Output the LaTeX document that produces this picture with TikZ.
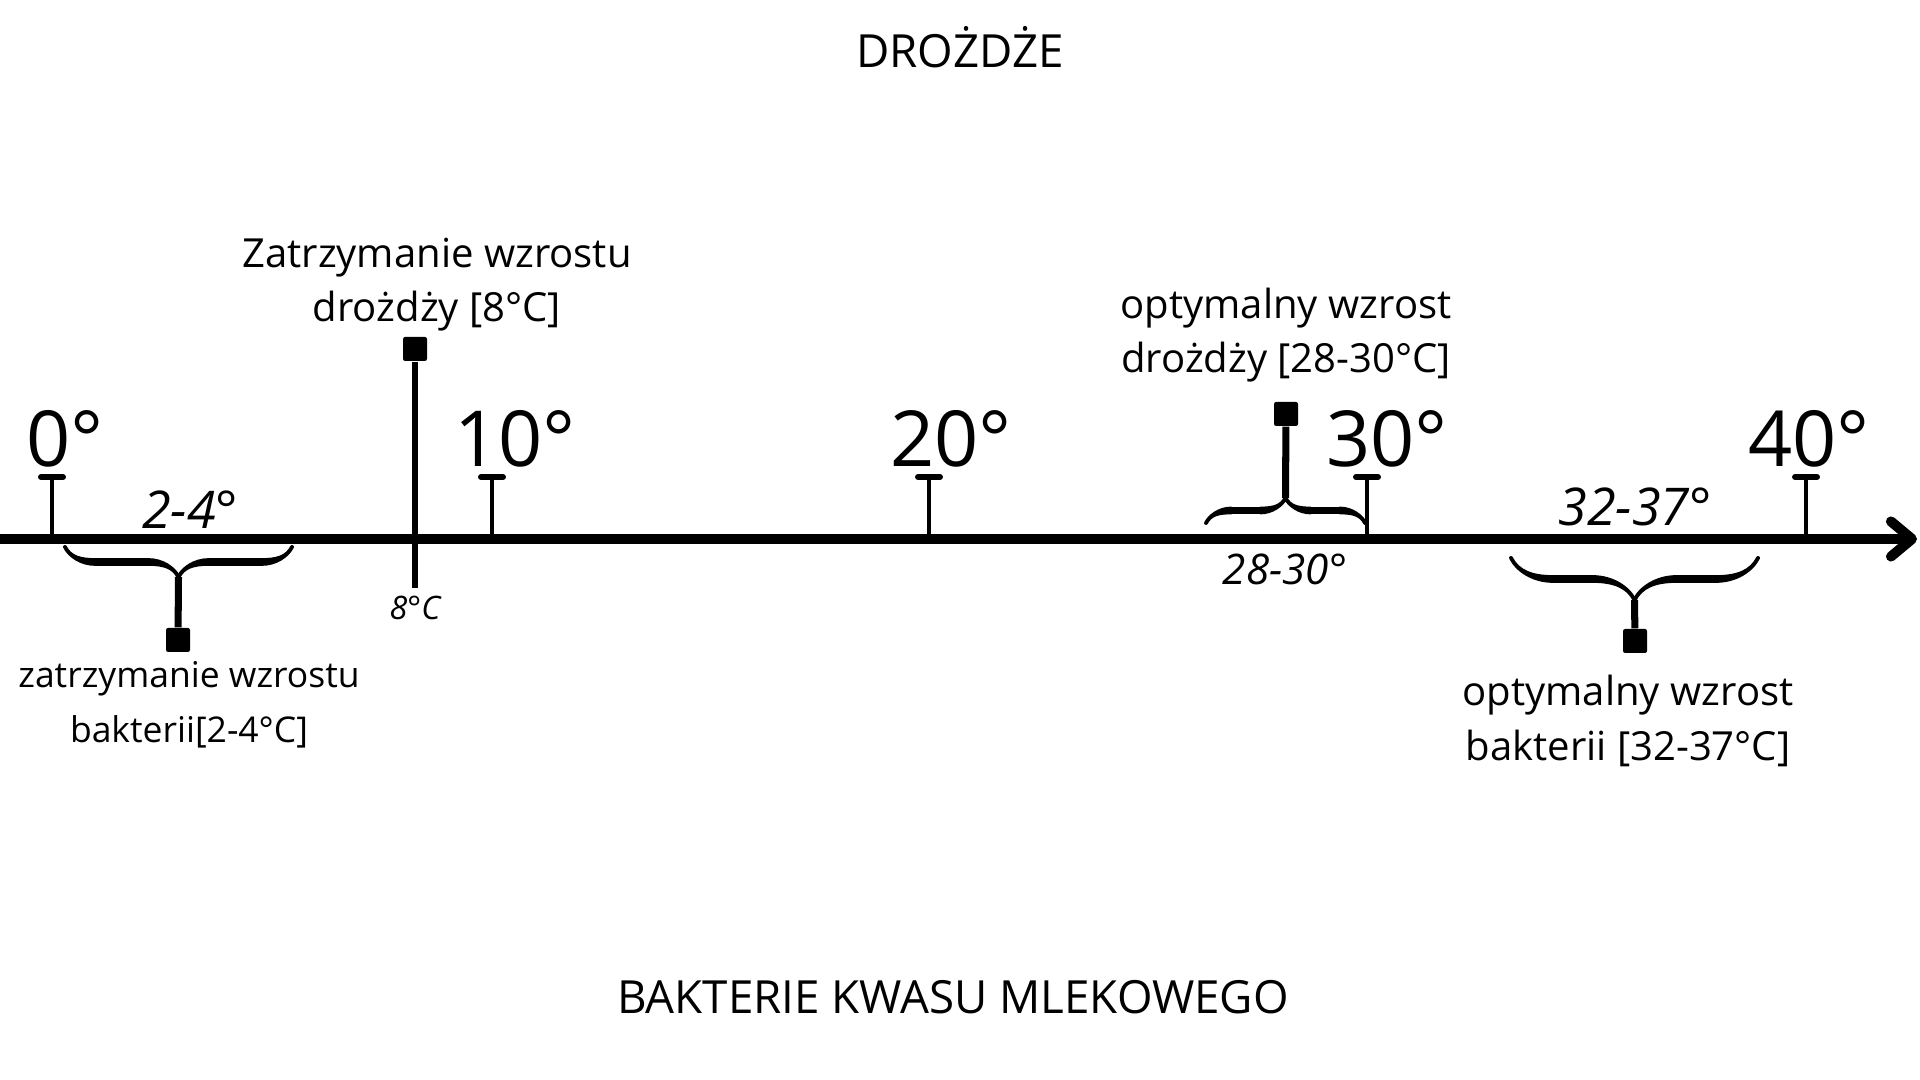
\documentclass[tikz,border=0pt]{standalone}
\usepackage{fontspec}
\setmainfont{Open Sans}
\usetikzlibrary{arrows.meta,decorations.pathreplacing,calligraphy}
\begin{document}
\begin{tikzpicture}[>={Straight Barb[length=6pt,width=10pt,round]},
  big/.style={font=\fontsize{22}{26}\selectfont,anchor=base},
  txt/.style={font=\fontsize{11.4}{15.4}\selectfont,align=center},
  rng/.style={font=\fontsize{14.8}{18}\selectfont\itshape,anchor=base},
  sq/.style={fill,inner sep=0,minimum size=0.24cm,rounded corners=0.6pt},
  brc/.style={decorate,decoration={calligraphic brace,amplitude=#1},pen colour={black},line width=2.2pt}]
\useasboundingbox (0,0) rectangle (19.2,10.8);
\node[font=\fontsize{13}{15}\selectfont,anchor=base](yeast) at (9.6,10.12){DROŻDŻE};
\node[font=\fontsize{13}{15}\selectfont,anchor=base](bact) at (9.53,0.66){BAKTERIE KWASU MLEKOWEGO};
\draw[line width=0.1cm,->](0,5.41)--(19.17,5.41);
\foreach \t/\x/\lx in {0/0.52/0.65,10/4.92/5.15,20/9.29/9.51,30/13.67/13.87,40/18.06/18.09}
{
    \draw[line width=1.4pt](\x,5.41)--(\x,6.03);
    \draw[line width=1.7pt,line cap=round](\x-.11,6.03)--(\x+.11,6.03);
    \node[big](t\t) at (\lx,6.13){\t°};
}
% 8 stopni
\node[sq](sq8) at (4.15,7.31){};
\coordinate(b8) at (4.15,4.92);
\draw[line width=1.7pt](b8)--(sq8);
\node[font=\fontsize{9.2}{11}\selectfont\itshape,anchor=base](lab8) at (4.15,4.60){8°C};
\node[txt](stop8) at (4.37,7.95){Zatrzymanie wzrostu\\drożdży [8°C]};
% 2-4
\draw[brc=0.30cm,decoration={mirror}](0.65,5.33)--(2.92,5.33);
\coordinate(c24) at (1.785,5.03);
\node[sq](sq24) at (1.78,4.40){};
\draw[line width=2pt](c24)--(sq24);
\node[rng](r24) at (1.90,5.51){2-4°};
\node[txt,font=\fontsize{10.1}{15.6}\selectfont](stop24) at (1.89,3.75){zatrzymanie wzrostu\\bakterii[2-4°C]};
% 28-30
\draw[brc=0.25cm](12.06,5.57)--(13.65,5.57);
\coordinate(c2830) at (12.855,5.82);
\node[sq](sq2830) at (12.86,6.66){};
\draw[line width=2pt](c2830)--(sq2830);
\node[font=\fontsize{12}{14}\selectfont\itshape,anchor=base](r2830) at (12.85,4.95){28-30°};
\node[txt](opt2830) at (12.86,7.45){optymalny wzrost\\drożdży [28-30°C]};
% 32-37
\draw[brc=0.42cm,decoration={mirror}](15.11,5.22)--(17.58,5.22);
\coordinate(c3237) at (16.345,4.80);
\node[sq](sq3237) at (16.35,4.39){};
\draw[line width=2pt](c3237)--(sq3237);
\node[rng](r3237) at (16.35,5.54){32-37°};
\node[txt](opt3237) at (16.28,3.59){optymalny wzrost\\bakterii [32-37°C]};
\end{tikzpicture}
\end{document}
